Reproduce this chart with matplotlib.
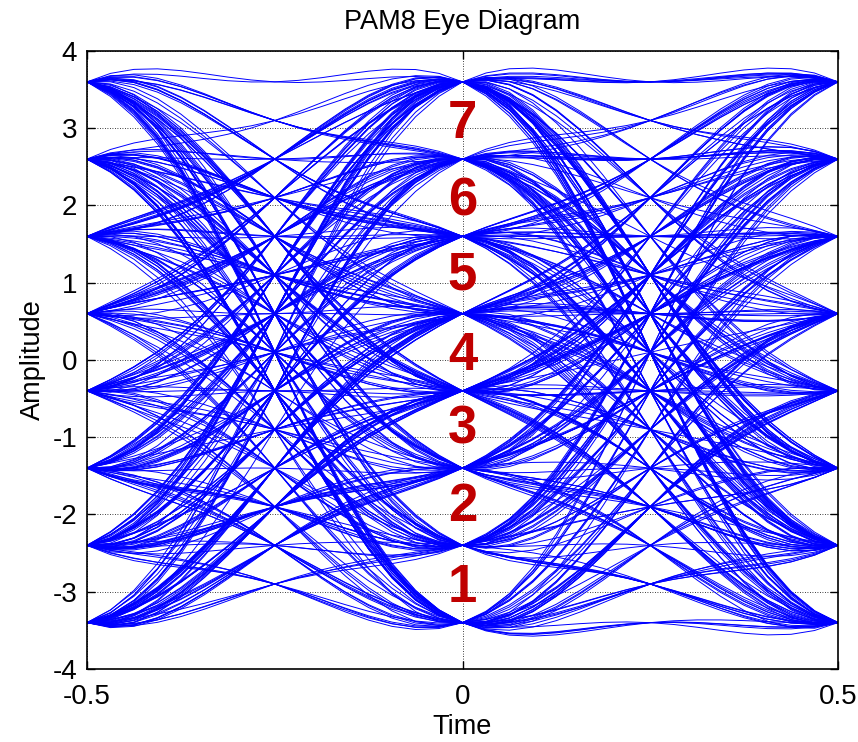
import numpy as np
import matplotlib
matplotlib.use("Agg")
import matplotlib.pyplot as plt

# ---- data ----
levels = [-3.4, -2.4, -1.4, -0.4, 0.6, 1.6, 2.6, 3.6]
symbol_rows = [
    "52710463271506347120653417024653",
    "06135724601735241067325104763512",
    "74203165427013652470316257401632",
    "15637402516370241573604215736041",
    "36027514630725416302751460372514",
    "41750623347106252741036517240356",
    "23614770215436600127543367120454",
    "60372145507736214401653277031562",
    "17450326641207735102456637201154",
    "35716204472013566320174455102637",
    "02463157730426615540372116705243",
    "64217035126470331572600436125774",
    "51036472205713466023751714260335",
    "27650314436027151104735627730146",
    "70325416613704522657031447216530",
    "43172560035176244302617557106423",
    "26054371120476335617024573061247",
    "73510264457203116624075335170462",
    "04627135536401277215463006735241",
    "57312046621750343076125554032716",
    "12764035703614225147036672105437",
    "65201743317562040623571447261053",
    "30476215542713600357214663045172",
    "46135702276041355271460312657034",
]
eye_labels = ["1", "2", "3", "4", "5", "6", "7"]
eye_label_y = [-2.95, -1.9, -0.9, 0.05, 1.1, 2.05, 3.05]
x_ticks = [-0.5, 0, 0.5]
x_tick_labels = ["-0.5", "0", "0.5"]
y_ticks = [-4, -3, -2, -1, 0, 1, 2, 3, 4]
y_tick_labels = ["-4", "-3", "-2", "-1", "0", "1", "2", "3", "4"]

# ---- signal (raised-cosine pulse shaping, rolloff 1) ----
sps = 16
span = 3
symbols = np.array([int(c) for row in symbol_rows for c in row])
amps = np.array(levels)[symbols]
tt = np.arange(-span * sps, span * sps + 1) / sps
with np.errstate(divide="ignore", invalid="ignore"):
    den = 1 - (2 * tt) ** 2
    h = np.sinc(tt) * np.cos(np.pi * tt) / den
h[np.isclose(den, 0)] = np.pi / 4 * np.sinc(0.5)
up = np.zeros(len(amps) * sps)
up[::sps] = amps
sig = np.convolve(up, h, mode="same")

n_tr = len(amps) // 2
traces = []
for k in range(2, n_tr - 2):
    s = 2 * k * sps
    traces.append(sig[s:s + 2 * sps + 1])
traces = np.array(traces)
t = np.linspace(-0.5, 0.5, 2 * sps + 1)

# ---- plot ----
plt.rcParams["font.family"] = ["Liberation Sans", "DejaVu Sans"]
plt.rcParams["axes.unicode_minus"] = False
fig = plt.figure(figsize=(8.58, 7.42), dpi=100)
ax = fig.add_axes([0.1014, 0.0984, 0.8753, 0.8329])
ax.plot(t, traces.T, color="#0000ff", lw=0.7, zorder=2)

ax.set_xlim(-0.5, 0.5)
ax.set_ylim(-4, 4)
ax.set_xticks(x_ticks)
ax.set_xticklabels(x_tick_labels)
ax.set_yticks(y_ticks)
ax.set_yticklabels(y_tick_labels)
ax.tick_params(direction="in", length=6, width=1, top=True, right=True,
               labelsize=20, color="black")
ax.tick_params(axis="x", pad=11)
ax.tick_params(axis="y", pad=7)
ax.grid(True, color="black", linestyle=(0, (1, 2)), linewidth=0.6, zorder=0)
ax.set_axisbelow(True)
for sp in ax.spines.values():
    sp.set_linewidth(1.2)

for lab, y in zip(eye_labels, eye_label_y):
    ax.text(0, y, lab, color="#c00000", fontsize=38, fontweight="bold",
            ha="center", va="center", zorder=5)

ax.set_xlabel("Time", fontsize=19.5, labelpad=3)
ax.set_ylabel("Amplitude", fontsize=19.5, labelpad=5)
ax.set_title("PAM8 Eye Diagram", fontsize=19.5, pad=16)

fig.savefig("out.png", dpi=100)
